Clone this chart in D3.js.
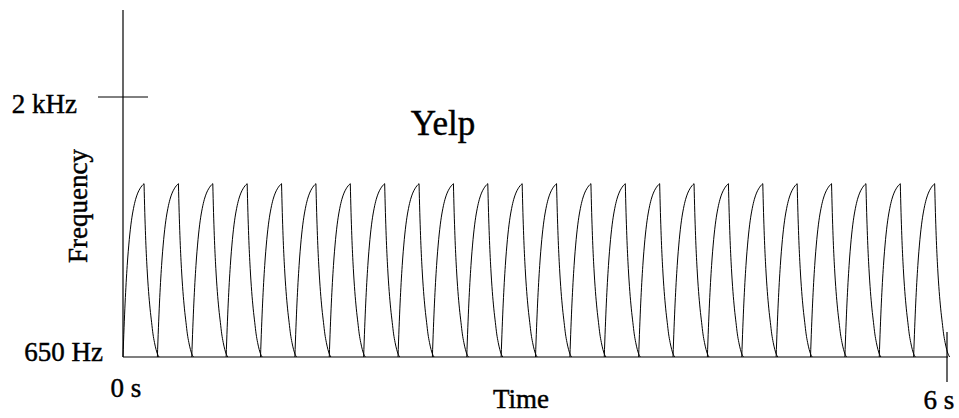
<!DOCTYPE html>
<html>
<head>
<meta charset="utf-8">
<script src="https://cdn.jsdelivr.net/npm/d3@7"></script>
<style>
  body { margin: 0; background: #fff; }
  text { font-family: "Liberation Serif", "Times New Roman", serif; fill: #000; stroke: #000; stroke-width: 0.45px; }
</style>
</head>
<body>
<script>
var width = 959;
var height = 418;

// one yelp sweep: seconds from the start of the sweep, Hz
var riseTime = [0, 0.0077, 0.0153, 0.0306, 0.0459, 0.0612, 0.0765, 0.0918, 0.1071, 0.1224, 0.1377, 0.153];
var riseFreq = [650, 802, 930, 1125, 1261, 1357, 1422, 1469, 1501, 1523, 1539, 1550];
var fallTime = [0.153, 0.1585, 0.164, 0.175, 0.186, 0.197, 0.208, 0.218, 0.229, 0.240, 0.251, 0.262];
var fallFreq = [1550, 1400, 1280, 1110, 990, 900, 830, 770, 725, 690, 665, 650];

// start of every sweep (s)
var sweepStarts = [0, 0.25, 0.5, 0.75, 1, 1.25, 1.5, 1.75, 2, 2.25, 2.5, 2.75,
                   3, 3.25, 3.5, 3.75, 4, 4.25, 4.5, 4.75, 5, 5.25, 5.5, 5.75];

var yTicks = [2000];
var yTickLabels = ["2 kHz"];
var xTicks = [6];
var xTickLabels = ["6 s"];

var svg = d3.select("body").append("svg")
    .attr("width", width)
    .attr("height", height);

var x = d3.scaleLinear().domain([0, 6]).range([123, 948]);
var y = d3.scaleLinear().domain([650, 2000]).range([357, 97]);

var line = d3.line()
    .x(function(d) { return x(d.t); })
    .y(function(d) { return y(d.f); })
    .curve(d3.curveMonotoneX);

var rise = riseTime.map(function(t, i) { return {t: t, f: riseFreq[i]}; });
var fall = fallTime.map(function(t, i) { return {t: t, f: fallFreq[i]}; });

var g = svg.append("g");

sweepStarts.forEach(function(s) {
  var shift = function(d) { return {t: d.t + s, f: d.f}; };
  g.append("path")
    .attr("d", line(rise.map(shift)))
    .attr("fill", "none")
    .attr("stroke", "#000")
    .attr("stroke-width", 1);
  g.append("path")
    .attr("d", line(fall.map(shift)))
    .attr("fill", "none")
    .attr("stroke", "#000")
    .attr("stroke-width", 1);
});

// axes
svg.append("line")
    .attr("x1", x(0)).attr("x2", x(0))
    .attr("y1", y(650)).attr("y2", y(2452))
    .attr("stroke", "#000").attr("stroke-width", 1.2);
svg.append("line")
    .attr("x1", x(0)).attr("x2", x(6))
    .attr("y1", y(650)).attr("y2", y(650))
    .attr("stroke", "#000").attr("stroke-width", 1.2);

// crossing ticks
svg.selectAll(".ytick").data(yTicks).enter().append("line")
    .attr("x1", x(0) - 25).attr("x2", x(0) + 25)
    .attr("y1", function(d) { return y(d); })
    .attr("y2", function(d) { return y(d); })
    .attr("stroke", "#000").attr("stroke-width", 1);
svg.selectAll(".xtick").data(xTicks).enter().append("line")
    .attr("x1", function(d) { return x(d) - 1; })
    .attr("x2", function(d) { return x(d) - 1; })
    .attr("y1", y(650) - 25).attr("y2", y(650) + 25)
    .attr("stroke", "#000").attr("stroke-width", 1.2);

svg.selectAll(".ylab").data(yTicks).enter().append("text")
    .attr("x", 77)
    .attr("y", function(d) { return y(d) + 16; })
    .attr("text-anchor", "end")
    .attr("font-size", 27)
    .text(function(d, i) { return yTickLabels[i]; });

svg.selectAll(".xlab").data(xTicks).enter().append("text")
    .attr("x", function(d) { return x(d) - 9; })
    .attr("y", 409)
    .attr("text-anchor", "middle")
    .attr("font-size", 27)
    .text(function(d, i) { return xTickLabels[i]; });

svg.append("text")
    .attr("x", 103).attr("y", 361)
    .attr("text-anchor", "end")
    .attr("font-size", 27)
    .text("650 Hz");

svg.append("text")
    .attr("x", 126).attr("y", 397)
    .attr("text-anchor", "middle")
    .attr("font-size", 27)
    .text("0 s");

svg.append("text")
    .attr("x", 521).attr("y", 408)
    .attr("text-anchor", "middle")
    .attr("font-size", 27)
    .text("Time");

svg.append("text")
    .attr("transform", "translate(87,206) rotate(-90)")
    .attr("text-anchor", "middle")
    .attr("font-size", 27)
    .text("Frequency");

svg.append("text")
    .attr("x", 443).attr("y", 135)
    .attr("text-anchor", "middle")
    .attr("font-size", 35)
    .text("Yelp");
</script>
</body>
</html>
